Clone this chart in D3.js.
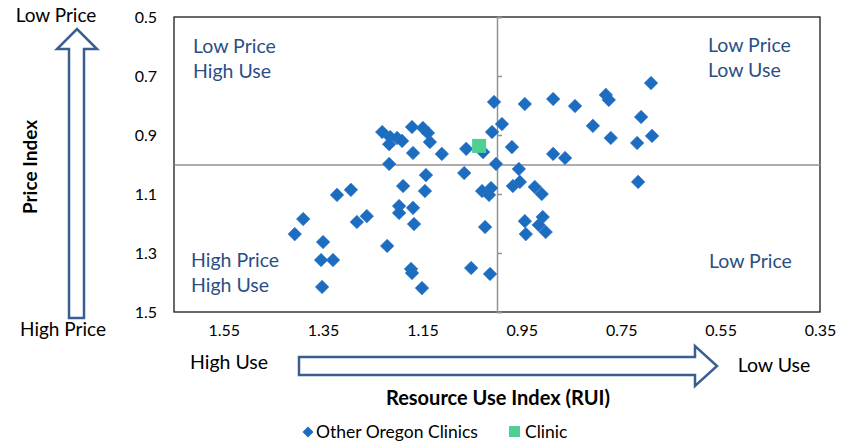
<!DOCTYPE html>
<html>
<head>
<meta charset="utf-8">
<script src="https://cdn.jsdelivr.net/npm/d3@7"></script>
<style>
  html, body { margin: 0; padding: 0; background: #fff; }
  svg { display: block; font-family: Lato, "Open Sans", sans-serif; }
</style>
</head>
<body>
<svg id="chart" width="844" height="442"></svg>
<script>
// ---- data ----
const seriesNames = ["Other Oregon Clinics", "Clinic"];
const otherRUI = [1.390,1.407,1.350,1.354,1.330,1.352,1.322,1.294,1.262,1.282,1.221,1.197,1.169,1.197,1.167,1.173,1.171,1.151,1.189,1.145,1.143,1.217,1.231,1.215,1.201,1.191,1.217,1.171,1.149,1.139,1.135,1.169,1.111,1.062,1.028,1.066,1.030,1.012,1.016,1.024,1.052,1.014,1.002,1.006,0.990,1.010,0.970,0.944,0.887,0.843,0.781,0.775,0.690,0.710,0.807,0.771,0.718,0.688,0.887,0.863,0.956,0.716,0.968,0.954,0.924,0.910,0.944,0.942,0.908,0.916,0.902];
const otherPrice = [1.185,1.236,1.263,1.324,1.324,1.415,1.103,1.086,1.175,1.195,1.276,1.141,1.147,1.164,1.202,1.354,1.368,1.419,1.073,1.090,1.036,0.998,0.890,0.907,0.910,0.920,0.931,0.873,0.876,0.893,0.924,0.961,0.964,0.947,0.958,1.029,1.090,1.080,1.103,1.212,1.351,1.371,0.998,0.788,0.863,0.890,0.941,0.795,0.778,0.802,0.764,0.781,0.724,0.839,0.869,0.910,0.927,0.903,0.964,0.978,1.015,1.059,1.073,1.059,1.076,1.100,1.192,1.236,1.178,1.205,1.229];
const clinicRUI = [1.036];
const clinicPrice = [0.937];
const xTickValues = [1.55, 1.35, 1.15, 0.95, 0.75, 0.55, 0.35];
const yTickValues = [0.5, 0.7, 0.9, 1.1, 1.3, 1.5];
const quadrantLabels = [
  {lines: ["Low Price", "High Use"], rui: 1.65, price: 0.5, dx: 19, dy: 36},
  {lines: ["Low Price", "Low Use"], rui: 0.35, price: 0.5, dx: -112, dy: 35},
  {lines: ["High Price", "High Use"], rui: 1.65, price: 1.5, dx: 17, dy: -45},
  {lines: ["Low Price"], rui: 0.35, price: 1.5, dx: -111, dy: -44}
];

// ---- layout ----
const svg = d3.select("#chart");
const pL = 174, pR = 820, pT = 17, pB = 312;
const x = d3.scaleLinear().domain([1.65, 0.35]).range([pL, pR]);
const y = d3.scaleLinear().domain([0.5, 1.5]).range([pT, pB]);
const blue = "#1c6cc0", green = "#4fcf92", textBlue = "#2b4f85", arrowBlue = "#3a5f8f";

// plot border
svg.append("rect").attr("x", pL).attr("y", pT).attr("width", pR - pL).attr("height", pB - pT)
  .attr("fill", "none").attr("stroke", "#1a1a1a").attr("stroke-width", 1.3);

// crossing axes at 1.0
const vAxis = svg.append("g").attr("transform", `translate(${x(1.0)},0)`)
  .call(d3.axisRight(y).tickValues(yTickValues).tickSize(5).tickFormat(""));
vAxis.select(".domain").attr("stroke", "#929292").attr("stroke-width", 1.5);
vAxis.selectAll(".tick line").attr("stroke", "#929292").attr("stroke-width", 1.5);

const hAxis = svg.append("g").attr("transform", `translate(0,${y(1.0)})`)
  .call(d3.axisBottom(x).tickValues(xTickValues).tickSize(0).tickFormat(""));
hAxis.select(".domain").attr("stroke", "#929292").attr("stroke-width", 1.5);

// tick labels
const yLab = svg.append("g").attr("transform", `translate(${pL},0)`)
  .call(d3.axisLeft(y).tickValues(yTickValues).tickSize(0).tickPadding(17).tickFormat(d3.format(".1f")));
yLab.select(".domain").remove();
yLab.selectAll("text").attr("font-size", 16).attr("fill", "#000").attr("font-family", "Lato, sans-serif");

const xLab = svg.append("g").attr("transform", `translate(0,${pB})`)
  .call(d3.axisBottom(x).tickValues(xTickValues).tickSize(0).tickPadding(13).tickFormat(d3.format(".2f")));
xLab.select(".domain").remove();
xLab.selectAll("text").attr("font-size", 16).attr("fill", "#000").attr("font-family", "Lato, sans-serif");

// quadrant labels
quadrantLabels.forEach(q => {
  const t = svg.append("text").attr("x", x(q.rui) + q.dx).attr("y", y(q.price) + q.dy)
    .attr("fill", textBlue).attr("font-size", 19.5);
  q.lines.forEach((l, i) => t.append("tspan").attr("x", x(q.rui) + q.dx).attr("dy", i === 0 ? 0 : 25).text(l));
});

// points
const other = otherRUI.map((v, i) => ({rui: v, price: otherPrice[i]}));
const diamond = d3.symbol().type(d3.symbolSquare).size(92);
svg.append("g").selectAll("path").data(other).join("path")
  .attr("d", diamond)
  .attr("transform", d => `translate(${x(d.rui)},${y(d.price)}) rotate(45)`)
  .attr("fill", blue).attr("stroke", "#2f79c7").attr("stroke-width", 0.6);

const clinic = clinicRUI.map((v, i) => ({rui: v, price: clinicPrice[i]}));
svg.append("g").selectAll("rect").data(clinic).join("rect")
  .attr("x", d => x(d.rui) - 7).attr("y", d => y(d.price) - 7)
  .attr("width", 14).attr("height", 14).attr("fill", green);

// vertical arrow (price)
const va = [[69,318],[84,318],[84,49],[97,49],[77,29],[57,49],[69,49]];
svg.append("path").attr("d", d3.line()(va) + "Z")
  .attr("fill", "#fff").attr("stroke", arrowBlue).attr("stroke-width", 2.5).attr("stroke-linejoin", "miter");
svg.append("text").attr("x", 56).attr("y", 22).attr("text-anchor", "middle").attr("font-size", 19).attr("fill", "#000").text("Low Price");
svg.append("text").attr("x", 63).attr("y", 336).attr("text-anchor", "middle").attr("font-size", 19).attr("fill", "#000").text("High Price");
svg.append("text").attr("transform", "translate(37,167) rotate(-90)").attr("text-anchor", "middle")
  .attr("font-size", 19).attr("font-weight", "bold").attr("fill", "#000").text("Price Index");

// horizontal arrow (use)
const ha = [[299,357],[299,375],[695,375],[695,386],[717,366],[695,346],[695,357]];
svg.append("path").attr("d", d3.line()(ha) + "Z")
  .attr("fill", "#fff").attr("stroke", arrowBlue).attr("stroke-width", 2.5).attr("stroke-linejoin", "miter");
svg.append("text").attr("x", 229).attr("y", 369).attr("text-anchor", "middle").attr("font-size", 19.5).attr("fill", "#000").text("High Use");
svg.append("text").attr("x", 774).attr("y", 372).attr("text-anchor", "middle").attr("font-size", 19.5).attr("fill", "#000").text("Low Use");
svg.append("text").attr("x", 498).attr("y", 405).attr("text-anchor", "middle").attr("font-size", 20)
  .attr("font-weight", "bold").attr("fill", "#000").text("Resource Use Index (RUI)");

// legend
const lg = svg.append("g").attr("transform", "translate(0,432)");
lg.append("path").attr("d", d3.symbol().type(d3.symbolSquare).size(60)).attr("transform", "translate(308,0) rotate(45)").attr("fill", blue);
lg.append("text").attr("x", 316).attr("y", 6).attr("font-size", 17.5).attr("fill", "#000").text(seriesNames[0]);
lg.append("rect").attr("x", 509).attr("y", -6).attr("width", 11).attr("height", 11).attr("fill", green);
lg.append("text").attr("x", 525).attr("y", 6).attr("font-size", 17.5).attr("fill", "#000").text(seriesNames[1]);
</script>
</body>
</html>
